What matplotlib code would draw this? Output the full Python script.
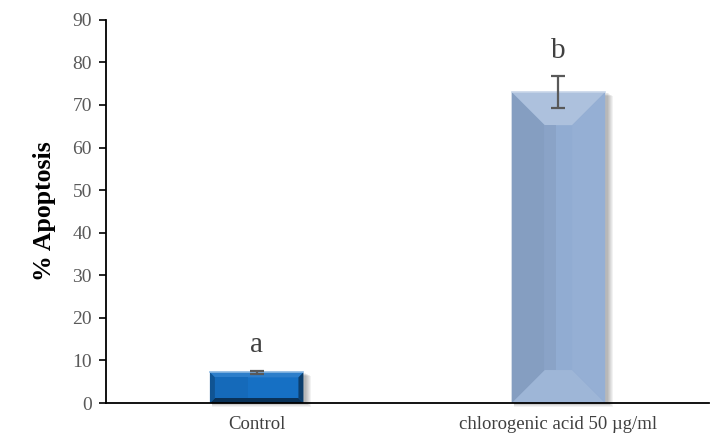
import numpy as np
import matplotlib.pyplot as plt
from matplotlib.patches import Polygon, Rectangle

plt.rcParams['font.family'] = ['Liberation Serif', 'DejaVu Serif']

groups = ['Control', 'chlorogenic acid 50 \u00b5g/ml']
apoptosis = [7.2, 73.0]
sd = [0.4, 3.7]
letters = ['a', 'b']
bar_colors = ['#1670c4', '#91acd2']
bevel_px = [5, 33]

fig = plt.figure(figsize=(7.1, 4.34), dpi=100)
ax = fig.add_axes([0.149, 0.0714, 0.85, 0.883])

x = np.arange(len(groups))
width = 0.31
ax.set_xlim(-0.5, 1.5)
ax.set_ylim(0, 90)

# pixel -> data scale, for the bevel and shadow sizes
ax_w = 0.85 * 710
ax_h = 0.883 * 434
sx = 2.0 / ax_w
sy = 90.0 / ax_h


def shade(c, f):
    c = np.array(plt.matplotlib.colors.to_rgb(c))
    if f > 0:
        return tuple(c + (1 - c) * f)
    return tuple(c * (1 + f))


for xi, v, col, bp in zip(x, apoptosis, bar_colors, bevel_px):
    x0, x1 = xi - width / 2, xi + width / 2
    # soft drop shadow on the right and bottom
    for k in range(1, 7):
        ax.add_patch(Rectangle((x0 + 2 * sx, -k * sy * 0.6), width + k * sx * 0.9, v,
                               color='black', alpha=0.05, lw=0, zorder=1, clip_on=False))
    ax.bar(xi, v, width=width, color=col, zorder=2)
    dx, dy = bp * sx, min(bp * sy, v / 2)
    # bevel faces
    top = [(x0, v), (x1, v), (x1 - dx, v - dy), (x0 + dx, v - dy)]
    bot = [(x0, 0), (x1, 0), (x1 - dx, dy), (x0 + dx, dy)]
    left = [(x0, 0), (x0, v), (x0 + dx, v - dy), (x0 + dx, dy)]
    right = [(x1, 0), (x1, v), (x1 - dx, v - dy), (x1 - dx, dy)]
    if bp > 10:
        faces = [(top, shade(col, 0.25)), (bot, shade(col, 0.12)),
                 (left, shade(col, -0.08)), (right, shade(col, 0.04))]
    else:
        faces = [(top, shade(col, 0.1)), (bot, shade(col, -0.55)),
                 (left, shade(col, -0.25)), (right, shade(col, -0.45))]
    for pts, fc in faces:
        ax.add_patch(Polygon(pts, closed=True, color=fc, lw=0, zorder=3))
    # slight darker band on the left half of the face
    ax.add_patch(Rectangle((x0 + dx, dy), (width - 2 * dx) * 0.4, v - 2 * dy,
                           color=shade(col, -0.05), lw=0, zorder=3))
    # bright rim on the top edge
    ax.plot([x0, x1], [v, v], color=shade(col, 0.5), lw=1.2, zorder=4)

ax.errorbar(x, apoptosis, yerr=sd, fmt='none', ecolor='#595959',
            elinewidth=1.6, capsize=5, capthick=1.6, zorder=5)

for xi, v, e, t in zip(x, apoptosis, sd, letters):
    ax.text(xi, v + e + 3.0, t, ha='center', va='bottom', fontsize=21, color='#404040')

ax.set_xticks(x)
ax.set_xticklabels(groups, fontsize=13.5, color='#404040')
ax.tick_params(axis='x', length=0, pad=9)
ax.set_yticks(np.arange(0, 91, 10))
ax.tick_params(axis='y', direction='out', length=5, width=1.2, labelsize=14,
               labelcolor='#595959', pad=5)

for s in ['top', 'right']:
    ax.spines[s].set_visible(False)
for s in ['left', 'bottom']:
    ax.spines[s].set_linewidth(1.3)
    ax.spines[s].set_zorder(6)

ax.set_ylabel('% Apoptosis', fontsize=18.5, fontweight='bold', labelpad=12)

fig.savefig('out.png', dpi=100)
